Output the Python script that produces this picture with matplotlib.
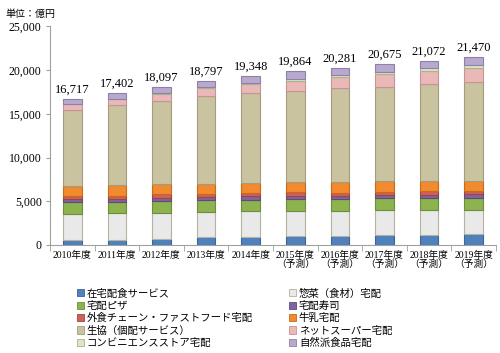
import matplotlib
matplotlib.use('Agg')
import matplotlib.pyplot as plt
from matplotlib.patches import Patch
import numpy as np

plt.rcParams['font.family'] = ['Liberation Serif', 'Noto Sans CJK JP', 'DejaVu Sans']

years = ['2010年度', '2011年度', '2012年度', '2013年度', '2014年度',
         '2015年度\n（予測）', '2016年度\n（予測）', '2017年度\n（予測）',
         '2018年度\n（予測）', '2019年度\n（予測）']
totals = [16717, 17402, 18097, 18797, 19348, 19864, 20281, 20675, 21072, 21470]

# 億円, stacked from the bottom
zaitaku_haishoku = [580, 600, 690, 880, 950, 1000, 1030, 1100, 1180, 1230]
sozai_takuhai = [2980, 3040, 3010, 2870, 2900, 2900, 2890, 2900, 2850, 2810]
takuhai_pizza = [1340, 1260, 1350, 1350, 1350, 1380, 1330, 1330, 1350, 1360]
takuhai_sushi = [380, 380, 380, 400, 400, 370, 380, 370, 370, 400]
gaishoku_chain = [370, 370, 380, 370, 380, 390, 370, 370, 370, 370]
gyunyu_takuhai = [1150, 1230, 1190, 1150, 1150, 1220, 1200, 1270, 1210, 1150]
seikyo = [8637, 9082, 9527, 10017, 10238, 10404, 10731, 10765, 11112, 11330]
net_super = [650, 690, 770, 880, 1030, 1150, 1260, 1450, 1500, 1650]
konbini = [100, 100, 100, 120, 150, 200, 220, 250, 280, 300]
shizenha = [530, 650, 700, 760, 800, 850, 870, 870, 850, 870]

series = [
    ('在宅配食サービス', zaitaku_haishoku, '#4F81BD', '#3A6596'),
    ('惣菜（食材）宅配', sozai_takuhai, '#E9E9E9', '#B5B2A2'),
    ('宅配ピザ', takuhai_pizza, '#8DB34E', '#6E8C3C'),
    ('宅配寿司', takuhai_sushi, '#8064A2', '#5F4A7A'),
    ('外食チェーン・ファストフード宅配', gaishoku_chain, '#D0605C', '#A04440'),
    ('牛乳宅配', gyunyu_takuhai, '#F28A2E', '#C86A1C'),
    ('生協（個配サービス）', seikyo, '#C9C3A0', '#A39D7E'),
    ('ネットスーパー宅配', net_super, '#EBB8B8', '#C69494'),
    ('コンビニエンスストア宅配', konbini, '#DCE6C4', '#A9B48E'),
    ('自然派食品宅配', shizenha, '#B8A9CF', '#8E80A6'),
]

fig = plt.figure(figsize=(5, 3.53), dpi=100)
ax = fig.add_axes([0.1, 0.306, 0.892, 0.619])

x = np.arange(len(years))
bottom = np.zeros(len(years))
handles = []
for name, vals, color, edge in series:
    ax.bar(x, vals, width=0.42, bottom=bottom, color=color,
           edgecolor=edge, linewidth=0.8)
    bottom += np.array(vals)
    handles.append(Patch(facecolor=color, edgecolor=edge, linewidth=0.6, label=name))

for xi, t in zip(x, totals):
    ax.annotate(f'{t:,}', (xi, t), xytext=(0, 4.5), textcoords='offset points',
                ha='center', va='baseline', fontsize=9)

ax.set_xlim(-0.5, len(years) - 0.5)
ax.set_ylim(0, 25000)
ax.set_yticks(np.arange(0, 25001, 5000))
ax.set_yticklabels([f'{v:,}' for v in range(0, 25001, 5000)], fontsize=8.5)
ax.set_xticks(x)
ax.set_xticklabels(years, fontsize=7, linespacing=1.0)
ax.set_xticks(np.arange(-0.5, len(years), 1), minor=True)
ax.tick_params(axis='x', which='major', length=0, pad=4)
ax.tick_params(axis='x', which='minor', length=4, color='#A0A0A0')
ax.tick_params(axis='y', length=3, color='#A0A0A0', pad=3)

for s in ['top', 'right']:
    ax.spines[s].set_visible(False)
for s in ['left', 'bottom']:
    ax.spines[s].set_color('#A0A0A0')

fig.text(0.01, 0.975, '単位：億円', fontsize=7.2, va='top', ha='left',
         family=['Noto Sans CJK JP'])

order = [0, 2, 4, 6, 8, 1, 3, 5, 7, 9]
fig.legend([handles[i] for i in order], [series[i][0] for i in order],
           loc='upper left', bbox_to_anchor=(0.153, 0.183), ncol=2,
           frameon=False, prop={'family': ['Noto Sans CJK JP'], 'size': 7.5},
           handlelength=0.7, handleheight=0.7, handletextpad=0.25,
           labelspacing=0.22, columnspacing=3.5, borderaxespad=0, borderpad=0)

fig.savefig('out.png', dpi=100)
plt.close(fig)
